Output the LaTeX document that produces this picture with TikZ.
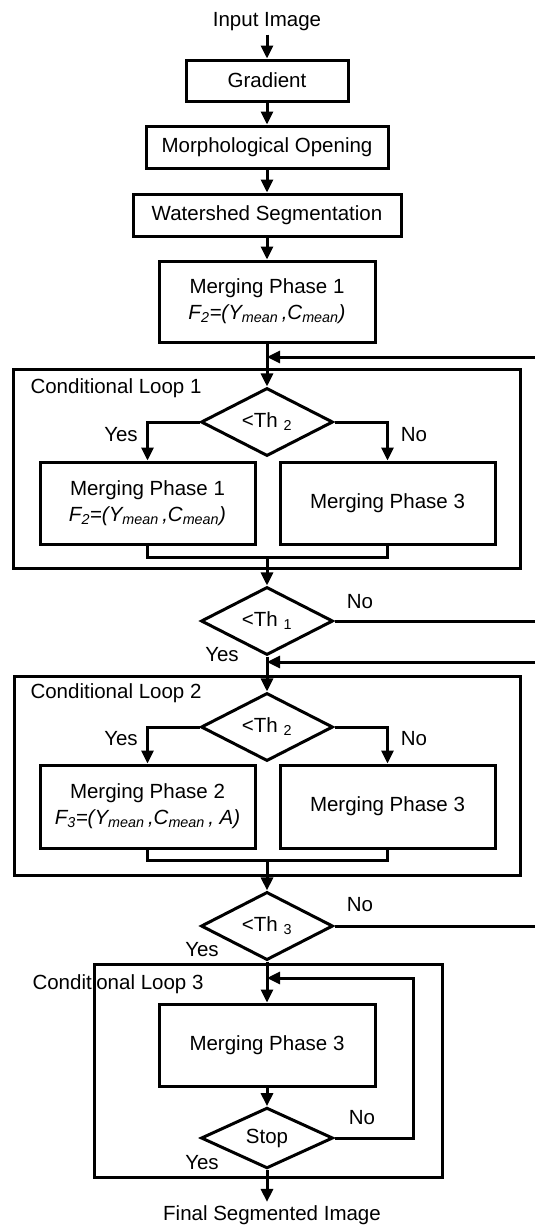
\documentclass[tikz,border=0pt]{standalone}
\usepackage{fontspec}
\setmainfont{Liberation Sans}
\usepackage{tikz}
\usetikzlibrary{arrows.meta, shapes.geometric}

\begin{document}
\begin{tikzpicture}[x=1pt, y=-1pt,
    font=\fontsize{20.5}{26}\selectfont,
    box/.style={draw, line width=3pt, inner sep=0pt, align=center},
    cond/.style={diamond, draw, line width=3pt, inner sep=0pt,
      minimum width=132pt, minimum height=53pt},
    loopbox/.style={draw, line width=3pt, inner sep=0pt},
    flow/.style={line width=3pt, -{Triangle[length=13pt, width=12pt]}},
    plain/.style={line width=3pt}
]
  \useasboundingbox (0,0) rectangle (535,1226);

  % Vorverarbeitung
  \node (input) at (267,22) {Input Image};
  \node[box, minimum width=162pt, minimum height=41pt] (grad) at (267,80.5) {Gradient};
  \node[box, minimum width=242pt, minimum height=42pt] (morph) at (267,147) {Morphological Opening};
  \node[box, minimum width=268pt, minimum height=42pt] (water) at (267,215) {Watershed Segmentation};
  \node[box, minimum width=216pt, minimum height=81pt] (mp1) at (267,301.5)
    {Merging Phase 1\\ {\itshape F\textsubscript{2}=(Y\textsubscript{mean}\,,C\textsubscript{mean})}};

  \draw[flow] (input) -- (grad);
  \draw[flow] (grad) -- (morph);
  \draw[flow] (morph) -- (water);
  \draw[flow] (water) -- (mp1);

  % Schleife 1
  \node[anchor=west] (lab1) at (27,388) {Conditional Loop 1};
  \node[loopbox, minimum width=507pt, minimum height=199pt] (loop1) at (266.5,468.5) {};
  \node[cond] (da) at (267,422) {<Th \textsubscript{2}};
  \node[box, minimum width=215pt, minimum height=82pt] (mpa) at (147.5,503)
    {Merging Phase 1\\ {\itshape F\textsubscript{2}=(Y\textsubscript{mean}\,,C\textsubscript{mean})}};
  \node[box, minimum width=215pt, minimum height=82pt] (mpb) at (387.5,503) {Merging Phase 3};
  \node (yesa) at (121,435) {Yes};
  \node (noa) at (414,435) {No};
  \coordinate (fb1) at (535,357);
  \coordinate (ma) at (267,557);

  \draw[flow] (mp1) -- (da);
  \draw[flow] (fb1) -- (fb1 -| da.north);
  \draw[flow] (da.west) -| (mpa.north);
  \draw[flow] (da.east) -| (mpb.north);
  \draw[plain] (mpa.south) |- (ma) -| (mpb.south);

  % Schwelle 1
  \node[cond] (th1) at (267,621) {<Th \textsubscript{1}};
  \node (noth1) at (360,602) {No};
  \node (yesth1) at (222,655) {Yes};
  \coordinate (out1) at (535,621);
  \draw[flow] (ma) -- (th1);
  \draw[plain] (th1.east) -- (out1);

  % Schleife 2
  \node[anchor=west] (lab2) at (27,693) {Conditional Loop 2};
  \node[loopbox, minimum width=506pt, minimum height=199pt] (loop2) at (267,775.5) {};
  \node[cond] (db) at (267,727) {<Th \textsubscript{2}};
  \node[box, minimum width=215pt, minimum height=83pt] (mpc) at (147.5,806.5)
    {Merging Phase 2\\ {\itshape F\textsubscript{3}=(Y\textsubscript{mean}\,,C\textsubscript{mean}\,, A)}};
  \node[box, minimum width=215pt, minimum height=83pt] (mpd) at (387.5,806.5) {Merging Phase 3};
  \node (yesb) at (121,739) {Yes};
  \node (nob) at (414,739) {No};
  \coordinate (fb2) at (535,662);
  \coordinate (mb) at (267,860);

  \draw[flow] (th1) -- (db);
  \draw[flow] (fb2) -- (fb2 -| db.north);
  \draw[flow] (db.west) -| (mpc.north);
  \draw[flow] (db.east) -| (mpd.north);
  \draw[plain] (mpc.south) |- (mb) -| (mpd.south);

  % Schwelle 3
  \node[cond] (th3) at (267,926) {<Th \textsubscript{3}};
  \node (noth3) at (360,905) {No};
  \node (yesth3) at (202,950) {Yes};
  \coordinate (out3) at (535,926);
  \draw[flow] (mb) -- (th3);
  \draw[plain] (th3.east) -- (out3);

  % Schleife 3
  \node[anchor=west] (lab3) at (29,984) {Conditional Loop 3};
  \node[loopbox, minimum width=348pt, minimum height=213pt] (loop3) at (268,1070.5) {};
  \node[box, minimum width=216pt, minimum height=82pt] (mpe) at (267,1045) {Merging Phase 3};
  \node[cond] (stop) at (267,1138) {Stop};
  \node (nostop) at (362,1118) {No};
  \node (yesstop) at (202,1163) {Yes};
  \coordinate (back) at (413,978);
  \coordinate (fb3) at (267,978);

  \draw[flow] (th3) -- (mpe);
  \draw[flow] (mpe) -- (stop);
  \draw[flow] (stop.east) -| (back) -- (fb3);

  % Ergebnis
  \node (final) at (272,1215) {Final Segmented Image};
  \draw[flow] (stop.south) -- (stop.south |- final.north);

\end{tikzpicture}
\end{document}
